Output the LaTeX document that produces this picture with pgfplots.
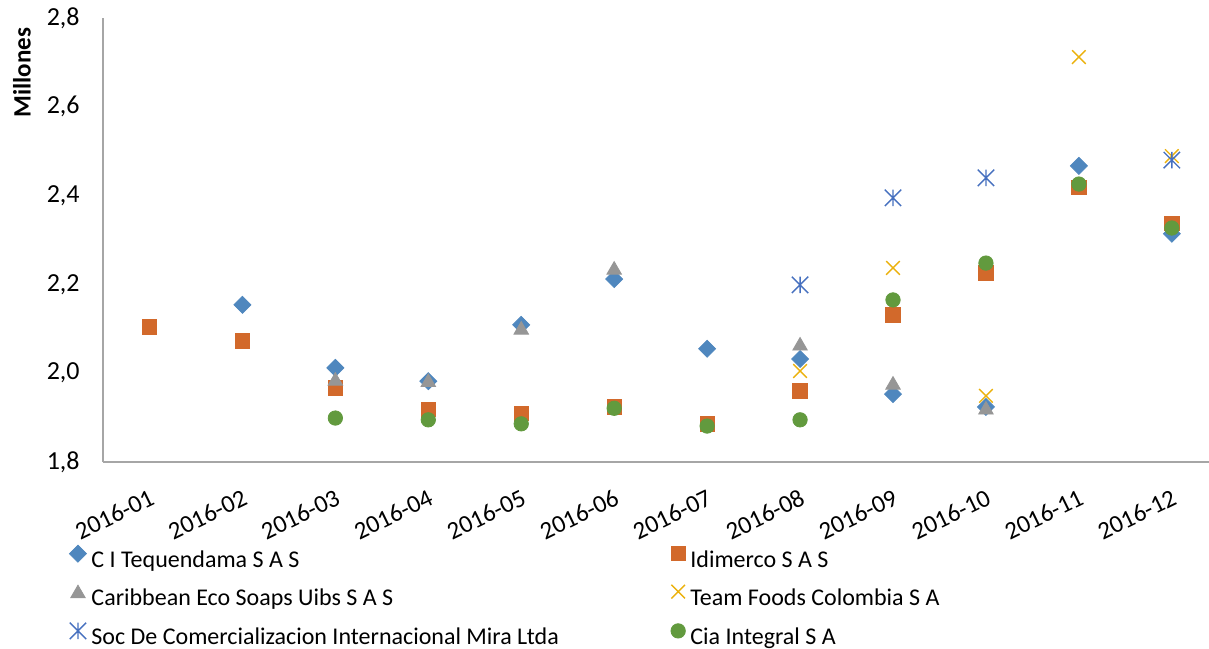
\documentclass[border=0pt]{standalone}
\usepackage{fontspec}
\setmainfont{Carlito}
\usepackage{pgfplots}
\pgfplotsset{compat=1.18}

\definecolor{cblue}{HTML}{4F87BE}
\definecolor{corange}{HTML}{D2692B}
\definecolor{cgray}{HTML}{969696}
\definecolor{cyellow}{HTML}{EBB10C}
\definecolor{cnavy}{HTML}{4670BF}
\definecolor{cgreen}{HTML}{629A3E}
\definecolor{axisgray}{HTML}{A6A6A6}

% Excel style star: vertical bar plus a cross
\pgfdeclareplotmark{xstar}{%
  \pgfpathmoveto{\pgfqpoint{0pt}{\pgfplotmarksize}}%
  \pgfpathlineto{\pgfqpoint{0pt}{-\pgfplotmarksize}}%
  \pgfpathmoveto{\pgfqpoint{-\pgfplotmarksize}{-\pgfplotmarksize}}%
  \pgfpathlineto{\pgfqpoint{\pgfplotmarksize}{\pgfplotmarksize}}%
  \pgfpathmoveto{\pgfqpoint{-\pgfplotmarksize}{\pgfplotmarksize}}%
  \pgfpathlineto{\pgfqpoint{\pgfplotmarksize}{-\pgfplotmarksize}}%
  \pgfusepathqstroke}
\pgfdeclareplotmark{xcross}{%
  \pgfpathmoveto{\pgfqpoint{-\pgfplotmarksize}{-\pgfplotmarksize}}%
  \pgfpathlineto{\pgfqpoint{\pgfplotmarksize}{\pgfplotmarksize}}%
  \pgfpathmoveto{\pgfqpoint{-\pgfplotmarksize}{\pgfplotmarksize}}%
  \pgfpathlineto{\pgfqpoint{\pgfplotmarksize}{-\pgfplotmarksize}}%
  \pgfusepathqstroke}

\begin{document}
\begin{tikzpicture}
\begin{axis}[
  name=ax,
  scale only axis,
  width=553pt, height=222pt,
  xmin=-0.5, xmax=11.4,
  ymin=1.8, ymax=2.8,
  axis x line*=bottom,
  axis y line*=left,
  axis line style={draw=axisgray, line width=0.9pt, -},
  major tick length=0pt,
  xtick={0,...,11},
  xticklabels={2016-01,2016-02,2016-03,2016-04,2016-05,2016-06,2016-07,2016-08,2016-09,2016-10,2016-11,2016-12},
  ytick={1.8,2.0,2.2,2.4,2.6,2.8},
  /pgf/number format/use comma,
  /pgf/number format/fixed,
  /pgf/number format/fixed zerofill,
  /pgf/number format/precision=1,
  /pgf/number format/assume math mode=true,
  yticklabel style={font=\fontsize{13}{15}\selectfont, inner sep=0pt, xshift=-11.5pt},
  xticklabel style={font=\fontsize{12.5}{14}\selectfont, xshift=-0.5pt, yshift=-13pt, rotate=26, anchor=north east, inner sep=0pt},
  ylabel={\textbf{Millones}},
  ylabel style={font=\fontsize{12.5}{14}\selectfont, at={(axis description cs:-0.0732,0.877)}, anchor=center},
  legend columns=2,
  legend cell align=left,
  legend image code/.code={\draw[#1] plot coordinates {(0pt,3.8pt)};},
  legend style={draw=none, fill=none, inner sep=0pt, outer sep=0pt,
    at={(axis description cs:0,0)}, anchor=north west, xshift=-16.75pt, yshift=-41.6pt,
    column sep=2.5pt, row sep=6.2pt,
    nodes={inner sep=0pt, text height=8.5pt, text depth=2.6pt},
    font=\fontsize{12}{14}\selectfont},
]
\addplot[only marks, color=cblue, mark=square*, mark size=3pt, mark options={rotate=45}]
  coordinates {(1,2.154)(2,2.012)(3,1.982)(4,2.109)(5,2.212)(6,2.055)(7,2.032)(8,1.953)(9,1.924)(10,2.467)(11,2.314)};
\addlegendentry{\makebox[287.25pt][l]{C I Tequendama S A S}}
\addplot[only marks, color=corange, mark=square*, mark size=3.6pt]
  coordinates {(0,2.104)(1,2.073)(2,1.967)(3,1.919)(4,1.910)(5,1.924)(6,1.886)(7,1.960)(8,2.131)(9,2.226)(10,2.419)(11,2.338)};
\addlegendentry{Idimerco S A S}
\addplot[only marks, color=cgray, mark=triangle*, mark size=4.2pt, mark options={yshift=-1pt}]
  coordinates {(2,1.987)(3,1.984)(4,2.102)(5,2.237)(7,2.066)(8,1.978)(9,1.922)};
\addlegendentry{\makebox[287.25pt][l]{Caribbean Eco Soaps Uibs S A S}}
\addplot[only marks, color=cyellow, mark=xcross, mark size=3.4pt, line width=0.7pt]
  coordinates {(7,2.005)(8,2.237)(9,1.949)(10,2.712)(11,2.489)};
\addlegendentry{Team Foods Colombia S A}
\addplot[only marks, color=cnavy, mark=xstar, mark size=4.1pt, line width=0.7pt]
  coordinates {(7,2.199)(8,2.395)(9,2.440)(11,2.480)};
\addlegendentry{\makebox[287.25pt][l]{Soc De Comercializacion Internacional Mira Ltda}}
\addplot[only marks, color=cgreen, mark=*, mark size=3.6pt]
  coordinates {(2,1.899)(3,1.895)(4,1.886)(5,1.921)(6,1.881)(7,1.895)(8,2.165)(9,2.248)(10,2.426)(11,2.327)};
\addlegendentry{Cia Integral S A}
\end{axis}
\pgfresetboundingbox
\path[use as bounding box] ([xshift=-51.5pt,yshift=-93pt]ax.south west) rectangle ([yshift=9pt]ax.north east);
\end{tikzpicture}
\end{document}
